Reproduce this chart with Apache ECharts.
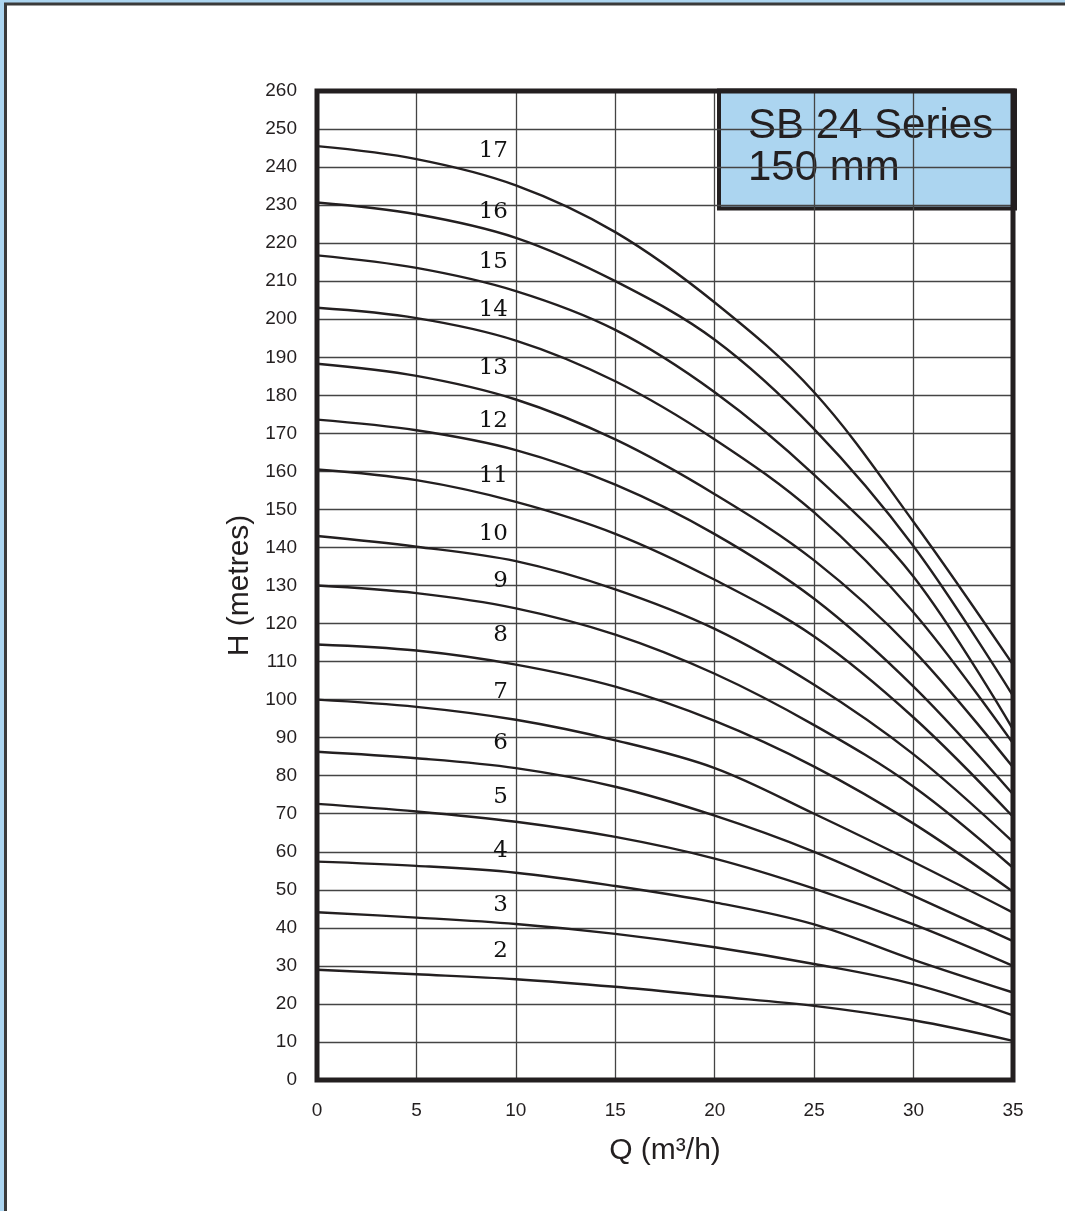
<!DOCTYPE html>
<html>
<head>
<meta charset="utf-8">
<script src="https://cdn.jsdelivr.net/npm/echarts@6/dist/echarts.min.js"></script>
<style>
html,body{margin:0;padding:0;background:#fff;}
#chart{width:1065px;height:1211px;}
</style>
</head>
<body>
<div id="chart"></div>
<script>
// Flow rate ticks (m3/h) at which heads were read
const flow = [0, 5, 10, 15, 20, 25, 30, 35];

// Head (m) per number of stages
const stage2  = [29, 27.8, 26.5, 24.5, 22, 19.5, 15.7, 10.3];
const stage3  = [44.1, 42.7, 41, 38.4, 34.9, 30.5, 25.2, 17];
const stage4  = [57.4, 56.3, 54.5, 51, 46.7, 40.9, 31.6, 23];
const stage5  = [72.6, 70.6, 67.9, 63.9, 58.2, 50.3, 40.9, 30];
const stage6  = [86.3, 84.6, 82, 77.1, 69.5, 60, 48.4, 36.5];
const stage7  = [100, 98.1, 94.7, 89.3, 82, 70, 57.3, 44];
const stage8  = [114.5, 112.9, 109.2, 103.4, 94.4, 82.4, 67.4, 49.5];
const stage9  = [130, 128, 124, 117.1, 106.8, 93.3, 77.1, 55.8];
const stage10 = [143, 140.2, 136.4, 129, 118.6, 103.9, 85.6, 62.6];
const stage11 = [160.5, 157.7, 152, 143.6, 131.5, 116.6, 95.3, 69.2];
const stage12 = [173.6, 170.8, 165.6, 156.5, 143.5, 126.5, 103.4, 75.1];
const stage13 = [188.3, 185.1, 178.9, 168.4, 154, 136.6, 112.9, 82.2];
const stage14 = [203, 200.3, 194.4, 183.7, 168.4, 149.2, 122.9, 88.5];
const stage15 = [216.8, 213.5, 207.4, 197.2, 180.8, 159.1, 132.3, 92.2];
const stage16 = [230.7, 227.6, 221.4, 210, 194.6, 171.1, 140.3, 101];
const stage17 = [245.5, 242.1, 235.2, 222.9, 204.4, 180.8, 146.7, 109.2];

const stageNames = ['2','3','4','5','6','7','8','9','10','11','12','13','14','15','16','17'];
const stageHeads = [stage2, stage3, stage4, stage5, stage6, stage7, stage8, stage9,
                    stage10, stage11, stage12, stage13, stage14, stage15, stage16, stage17];

// Curve label anchor (Q, H) — right edge of each number
const labelQ = 9.6;
const labelH = [33.8, 46, 60.3, 74.3, 88.5, 102.1, 116.9, 131.1,
                143.6, 158.9, 173.3, 187.1, 202.3, 215.1, 228.2, 244.3];

const titleLine1 = 'SB 24 Series';
const titleLine2 = '150 mm';

const ink = '#231f20';

const series = stageHeads.map((h, i) => ({
  name: stageNames[i],
  type: 'line',
  data: flow.map((q, j) => [q, h[j]]),
  smooth: 0.35,
  symbol: 'none',
  lineStyle: { color: ink, width: 2.4 },
  z: 3,
  silent: true
}));

series.push({
  type: 'scatter',
  data: labelH.map((h, i) => [labelQ, h, stageNames[i]]),
  symbolSize: 0,
  silent: true,
  z: 4,
  itemStyle: { opacity: 1 },
  label: {
    show: true,
    position: 'left',
    distance: 0,
    formatter: p => p.data[2],
    fontFamily: '"DejaVu Serif", serif',
    fontSize: 23,
    color: '#111',
    opacity: 1
  }
});

const chart = echarts.init(document.getElementById('chart'), null, { renderer: 'canvas' });
chart.setOption({
  animation: false,
  backgroundColor: '#acd5f0',
  grid: {
    left: 317, top: 91, right: 52, bottom: 131,
    show: true,
    backgroundColor: 'transparent',
    borderColor: ink,
    borderWidth: 5,
    z: 5
  },
  xAxis: {
    type: 'value',
    min: 0, max: 35, interval: 5,
    name: 'Q (m³/h)',
    nameLocation: 'middle',
    nameGap: 56,
    nameTextStyle: { fontFamily: 'Liberation Sans', fontSize: 30, color: ink },
    axisLine: { show: false },
    axisTick: { show: false },
    axisLabel: { margin: 21, fontFamily: 'Liberation Sans', fontSize: 19, color: ink },
    splitLine: { show: true, showMinLine: false, showMaxLine: false,
                 lineStyle: { color: '#444', width: 1.3 } }
  },
  yAxis: {
    type: 'value',
    min: 0, max: 260, interval: 10,
    name: 'H (metres)',
    nameLocation: 'middle',
    nameGap: 62,
    nameTextStyle: { fontFamily: 'Liberation Sans', fontSize: 30, color: ink },
    axisLine: { show: false },
    axisTick: { show: false },
    axisLabel: { margin: 20, fontFamily: 'Liberation Sans', fontSize: 19, color: ink },
    splitLine: { show: true, showMinLine: false, showMaxLine: false,
                 lineStyle: { color: '#444', width: 1.3 } }
  },
  graphic: [
    {
      type: 'rect', z: -10, silent: true,
      shape: { x: 5.5, y: 4, width: 1200, height: 1400 },
      style: { fill: '#ffffff', stroke: '#3a3a3a', lineWidth: 3 }
    },
    {
      type: 'group', z: 100, silent: true,
      children: [
        {
          type: 'rect',
          shape: { x: 719, y: 90.5, width: 296, height: 118 },
          style: { fill: '#acd5f0', stroke: ink, lineWidth: 4 }
        },
        {
          type: 'text', x: 748, y: 105,
          style: { text: titleLine1, fontFamily: 'Liberation Sans', fontSize: 42,
                   fill: ink, verticalAlign: 'top' }
        },
        {
          type: 'text', x: 748, y: 147,
          style: { text: titleLine2, fontFamily: 'Liberation Sans', fontSize: 42,
                   fill: ink, verticalAlign: 'top' }
        }
      ]
    }
  ],
  series: series
});
</script>
</body>
</html>
